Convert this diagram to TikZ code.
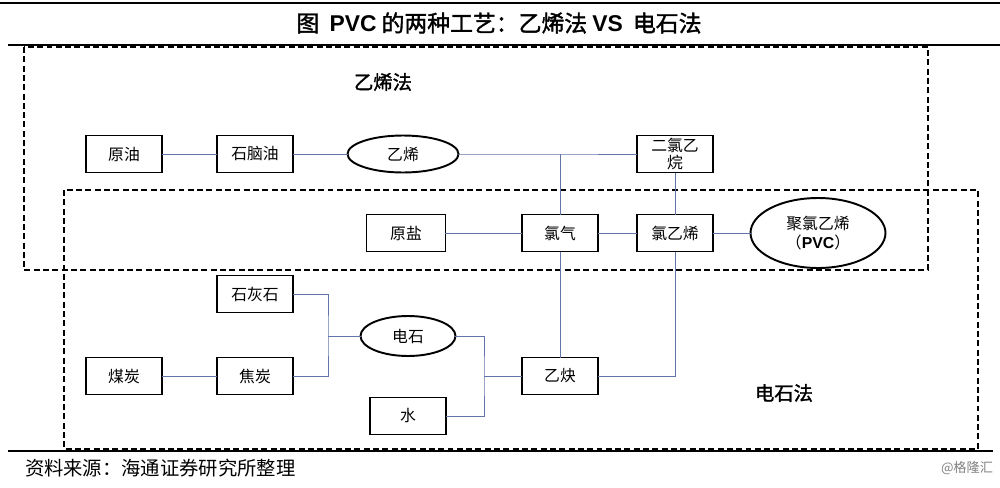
\documentclass[tikz,border=0pt]{standalone}
\usepackage{fontspec}
\setmainfont{Noto Sans CJK SC}
\newfontfamily\cjkbold{Noto Sans CJK SC}[FakeBold=1.6]
\newfontfamily\arial{Liberation Sans}
\usetikzlibrary{shapes.geometric}
\definecolor{linkblue}{RGB}{98,116,170}
\tikzset{>=latex,inner sep=0pt, outer sep=0pt,
	box/.style={draw,line width=1.1pt,minimum width=1.52cm,minimum height=0.74cm,align=center,font=\fontsize{9}{9.5}\selectfont},
	oval/.style={ellipse,draw,line width=1.1pt,align=center,font=\fontsize{9}{11}\selectfont},
	link/.style={draw=linkblue,line width=0.5pt},
	zone/.style={line width=0.9pt,dash pattern=on 3.4pt off 1.9pt},
	zonelabel/.style={font=\cjkbold\fontsize{11}{13}\selectfont},
}

\begin{document}
\begin{tikzpicture}[x=0.02cm,y=-0.02cm]
			\useasboundingbox (0,0) rectangle (1000,487);
			\coordinate (jtop) at (560,154);
			\coordinate (jleft) at (328,336);
			\coordinate (jright) at (484,376);
			% frame
			\draw[line width=1.7pt] (0,3)--(1000,3);
			\draw[line width=0.6pt] (8,45)--(1000,45);
			\draw[line width=0.8pt] (8,451)--(993,451);
			\node (title) at (499,23) {\cjkbold\fontsize{13}{15}\selectfont 图\ \ {\arial\bfseries PVC} 的两种工艺：乙烯法 {\arial\bfseries VS}\ \ 电石法};
			\node[anchor=west] (source) at (25,468) {\fontsize{11}{13}\selectfont 资料来源：海通证券研究所整理};
			\node[anchor=east,text=gray] (mark) at (993,468) {\fontsize{7.5}{9}\selectfont @格隆汇};
			% zones
			\draw[zone] (24,47) rectangle (928,270);
			\draw[zone] (64,190) rectangle (978,449);
			\node[zonelabel] (ethylenezone) at (383,82) {乙烯法};
			\node[zonelabel] (carbidezone) at (784,393) {电石法};
			% nodes
			\node[box] (crude) at (124,154) {原油};
			\node[box] (naphtha) at (255,154) {石脑油};
			\node[oval,minimum width=2.22cm,minimum height=0.74cm] (ethylene) at (403,154) {乙烯};
			\node[box] (edc) at (675,154) {二氯乙\\烷};
			\node[box,minimum width=1.58cm] (salt) at (406,233) {原盐};
			\node[box] (chlorine) at (560,233) {氯气};
			\node[box] (vcm) at (675,233) {氯乙烯};
			\node[oval,minimum width=2.7cm,minimum height=1.4cm] (pvc) at (818,233) {聚氯乙烯\\（{\arial\bfseries PVC}）};
			\node[box] (lime) at (255,294) {石灰石};
			\node[box] (coke) at (255,376) {焦炭};
			\node[box] (coal) at (124,376) {煤炭};
			\node[oval,minimum width=1.9cm,minimum height=0.8cm] (carbide) at (408,336) {电石};
			\node[box] (water) at (408,416) {水};
			\node[box] (acetylene) at (560,376) {乙炔};
			% links
			\draw[link] (crude)--(naphtha)--(ethylene)--(jtop)--(edc);
			\draw[link] (jtop)--(chlorine) (chlorine)--(acetylene);
			\draw[link] (salt)--(chlorine)--(vcm)--(pvc);
			\draw[link] (edc)--(vcm);
			\draw[link] (acetylene.east) -| (vcm.south);
			\draw[link] (coal)--(coke);
			\draw[link] (lime.east) -| (jleft) |- (coke.east);
			\draw[link] (jleft)--(carbide.west);
			\draw[link] (carbide.east) -| (jright) |- (water.east);
			\draw[link] (jright)--(acetylene.west);
		\end{tikzpicture}
\end{document}
